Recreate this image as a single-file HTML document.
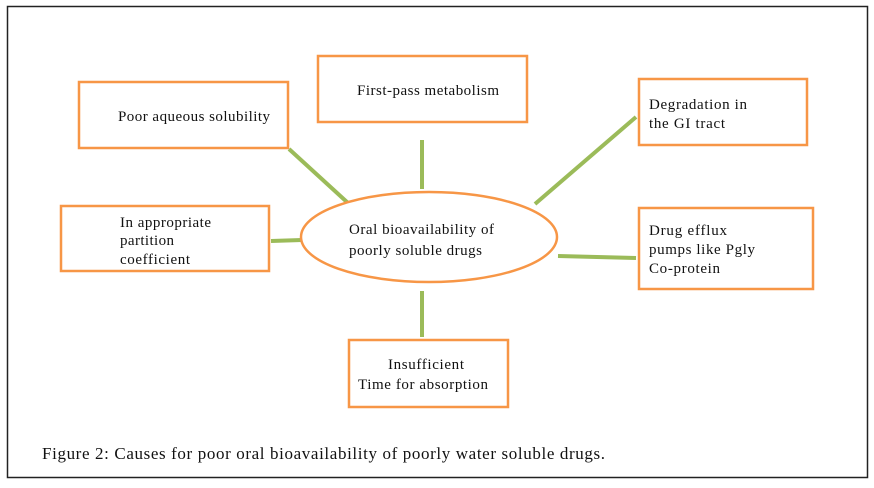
<!DOCTYPE html>
<html><head><style>
body{margin:0;background:#fff;width:874px;height:483px;overflow:hidden}
svg text{font-family:"Liberation Serif",serif;font-size:15px;fill:#111}
</style></head><body>
<svg width="874" height="483" viewBox="0 0 874 483">
<rect x="7.5" y="6.5" width="860" height="471" fill="none" stroke="#222" stroke-width="1.5"/>
<g stroke="#9bbb59" stroke-width="4" fill="none">
<line x1="289" y1="149" x2="348" y2="203"/>
<line x1="422" y1="140" x2="422" y2="189"/>
<line x1="636" y1="117" x2="535" y2="204"/>
<line x1="271" y1="241" x2="302" y2="240"/>
<line x1="558" y1="256" x2="636" y2="258"/>
<line x1="422" y1="291" x2="422" y2="337"/>
</g>
<g stroke="#f79646" stroke-width="2.5" fill="#fff">
<rect x="79" y="82" width="209" height="66"/>
<rect x="318" y="56" width="209" height="66"/>
<rect x="639" y="79" width="168" height="66"/>
<rect x="61" y="206" width="208" height="65"/>
<rect x="639" y="208" width="174" height="81"/>
<rect x="349" y="340" width="159" height="67"/>
<ellipse cx="429" cy="237" rx="128" ry="45"/>
</g>
<text x="118" y="121" textLength="152">Poor aqueous solubility</text>
<text x="357" y="95" textLength="142">First-pass metabolism</text>
<text x="649" y="109" textLength="98">Degradation in</text>
<text x="649" y="128" textLength="76">the GI tract</text>
<text x="120" y="227" textLength="91">In appropriate</text>
<text x="120" y="245" textLength="54">partition</text>
<text x="120" y="264" textLength="70">coefficient</text>
<text x="649" y="235" textLength="78">Drug efflux</text>
<text x="649" y="254" textLength="106">pumps like Pgly</text>
<text x="649" y="273" textLength="71">Co-protein</text>
<text x="349" y="234" textLength="145">Oral bioavailability  of</text>
<text x="349" y="255" textLength="133">poorly soluble drugs</text>
<text x="388" y="369" textLength="76">Insufficient</text>
<text x="358" y="389" textLength="130">Time for absorption</text>
<text x="42" y="459" style="font-size:17px" textLength="563">Figure 2: Causes for poor oral bioavailability of poorly water soluble drugs.</text>
</svg>
</body></html>
